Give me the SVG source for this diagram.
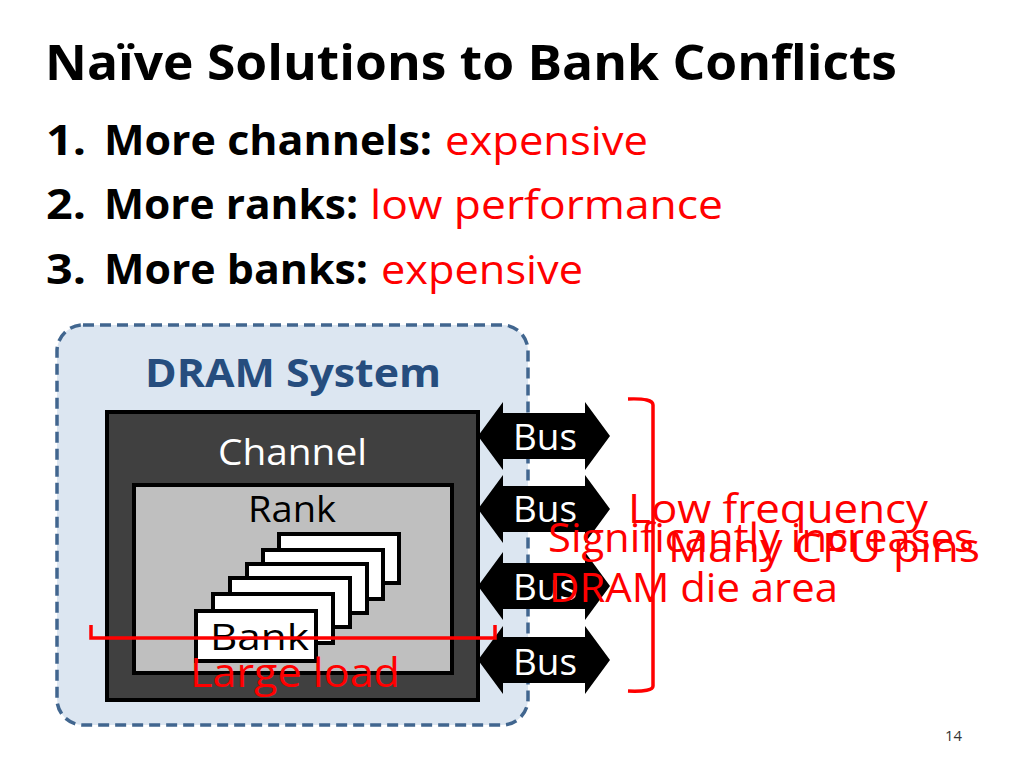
<svg xmlns="http://www.w3.org/2000/svg" width="1024" height="768" viewBox="0 0 1024 768">
<style>
text{font-family:"Open Sans","Noto Sans","Liberation Sans",sans-serif;}
.b{font-weight:700;fill:#000;}
.r{fill:#ff0000;}
.w{fill:#ffffff;}
.bank{fill:#ffffff;stroke:#000;stroke-width:4;}
.arrow{fill:#000;}
.red{fill:none;stroke:#ff0000;stroke-width:3.5;}
</style>
<defs>
<path id="dbl" d="M0,0 L25,-34 L25,-23 L107,-23 L107,-34 L132,0 L107,34 L107,23 L25,23 L25,34 Z"/>
</defs>
<rect width="1024" height="768" fill="#ffffff"/>
<g id="title">
<text x="45" y="80" class="b" font-size="49" textLength="852" lengthAdjust="spacingAndGlyphs">Naïve Solutions to Bank Conflicts</text>
</g>
<g id="list">
<text x="46" y="155" class="b" font-size="41" textLength="40" lengthAdjust="spacingAndGlyphs">1.</text>
<text x="104" y="155" class="b" font-size="41" textLength="328" lengthAdjust="spacingAndGlyphs">More channels:</text>
<text x="445" y="155" class="r" font-size="41" textLength="203" lengthAdjust="spacingAndGlyphs">expensive</text>
<text x="46" y="219" class="b" font-size="41" textLength="40" lengthAdjust="spacingAndGlyphs">2.</text>
<text x="104" y="219" class="b" font-size="41" textLength="254" lengthAdjust="spacingAndGlyphs">More ranks:</text>
<text x="370" y="219" class="r" font-size="41" textLength="353" lengthAdjust="spacingAndGlyphs">low performance</text>
<text x="46" y="284" class="b" font-size="41" textLength="40" lengthAdjust="spacingAndGlyphs">3.</text>
<text x="104" y="284" class="b" font-size="41" textLength="264" lengthAdjust="spacingAndGlyphs">More banks:</text>
<text x="381" y="284" class="r" font-size="41" textLength="202" lengthAdjust="spacingAndGlyphs">expensive</text>
</g>
<g id="dram-system">
<rect x="57" y="325" width="471" height="400" rx="26" fill="#dce6f1" stroke="#41668f" stroke-width="3.5" stroke-dasharray="11,6"/>
<text x="145" y="387" font-size="40" font-weight="700" fill="#264d7e" textLength="296" lengthAdjust="spacingAndGlyphs">DRAM System</text>
</g>
<g id="channel">
<rect x="107" y="412" width="371" height="288" fill="#404040" stroke="#000" stroke-width="4"/>
<text x="218" y="465" class="w" font-size="37" textLength="149" lengthAdjust="spacingAndGlyphs">Channel</text>
</g>
<g id="rank">
<rect x="134" y="485" width="318" height="188" fill="#bfbfbf" stroke="#000" stroke-width="4"/>
<text x="248" y="522" font-size="37" fill="#000" textLength="88" lengthAdjust="spacingAndGlyphs">Rank</text>
</g>
<g id="banks">
<rect class="bank" x="279" y="534" width="120" height="49"/>
<rect class="bank" x="263" y="550" width="120" height="49"/>
<rect class="bank" x="247" y="564" width="120" height="49"/>
<rect class="bank" x="230" y="578" width="120" height="49"/>
<rect class="bank" x="213" y="594" width="120" height="49"/>
<rect class="bank" x="196" y="611" width="120" height="50"/>
<text x="210" y="650" font-size="37" fill="#000" textLength="99" lengthAdjust="spacingAndGlyphs">Bank</text>
</g>
<g id="buses">
<use href="#dbl" x="478" y="436" class="arrow"/>
<use href="#dbl" x="478" y="509" class="arrow"/>
<use href="#dbl" x="478" y="586" class="arrow"/>
<use href="#dbl" x="478" y="660" class="arrow"/>
<text x="513" y="450" class="w" font-size="37" textLength="64" lengthAdjust="spacingAndGlyphs">Bus</text>
<text x="513" y="522" class="w" font-size="37" textLength="64" lengthAdjust="spacingAndGlyphs">Bus</text>
<text x="513" y="600" class="w" font-size="37" textLength="64" lengthAdjust="spacingAndGlyphs">Bus</text>
<text x="513" y="675" class="w" font-size="37" textLength="64" lengthAdjust="spacingAndGlyphs">Bus</text>
</g>
<g id="connectors">
<path class="red" d="M91,625 V638 H495 V625"/>
<path class="red" d="M628,399 Q653,398 653,405 V686 Q653,692 628,691"/>
</g>
<g id="annotations">
<text x="190" y="687" class="r" font-size="41" textLength="210" lengthAdjust="spacingAndGlyphs">Large load</text>
<text x="628" y="523" class="r" font-size="41" textLength="300" lengthAdjust="spacingAndGlyphs">Low frequency</text>
<text x="548" y="552" class="r" font-size="41" textLength="426" lengthAdjust="spacingAndGlyphs">Significantly increases</text>
<text x="668" y="562" class="r" font-size="41" textLength="312" lengthAdjust="spacingAndGlyphs">Many CPU pins</text>
<text x="549" y="602" class="r" font-size="41" textLength="289" lengthAdjust="spacingAndGlyphs">DRAM die area</text>
</g>
<g id="page-number">
<text x="945" y="741" font-size="15" fill="#333" textLength="17" lengthAdjust="spacingAndGlyphs">14</text>
</g>
</svg>
